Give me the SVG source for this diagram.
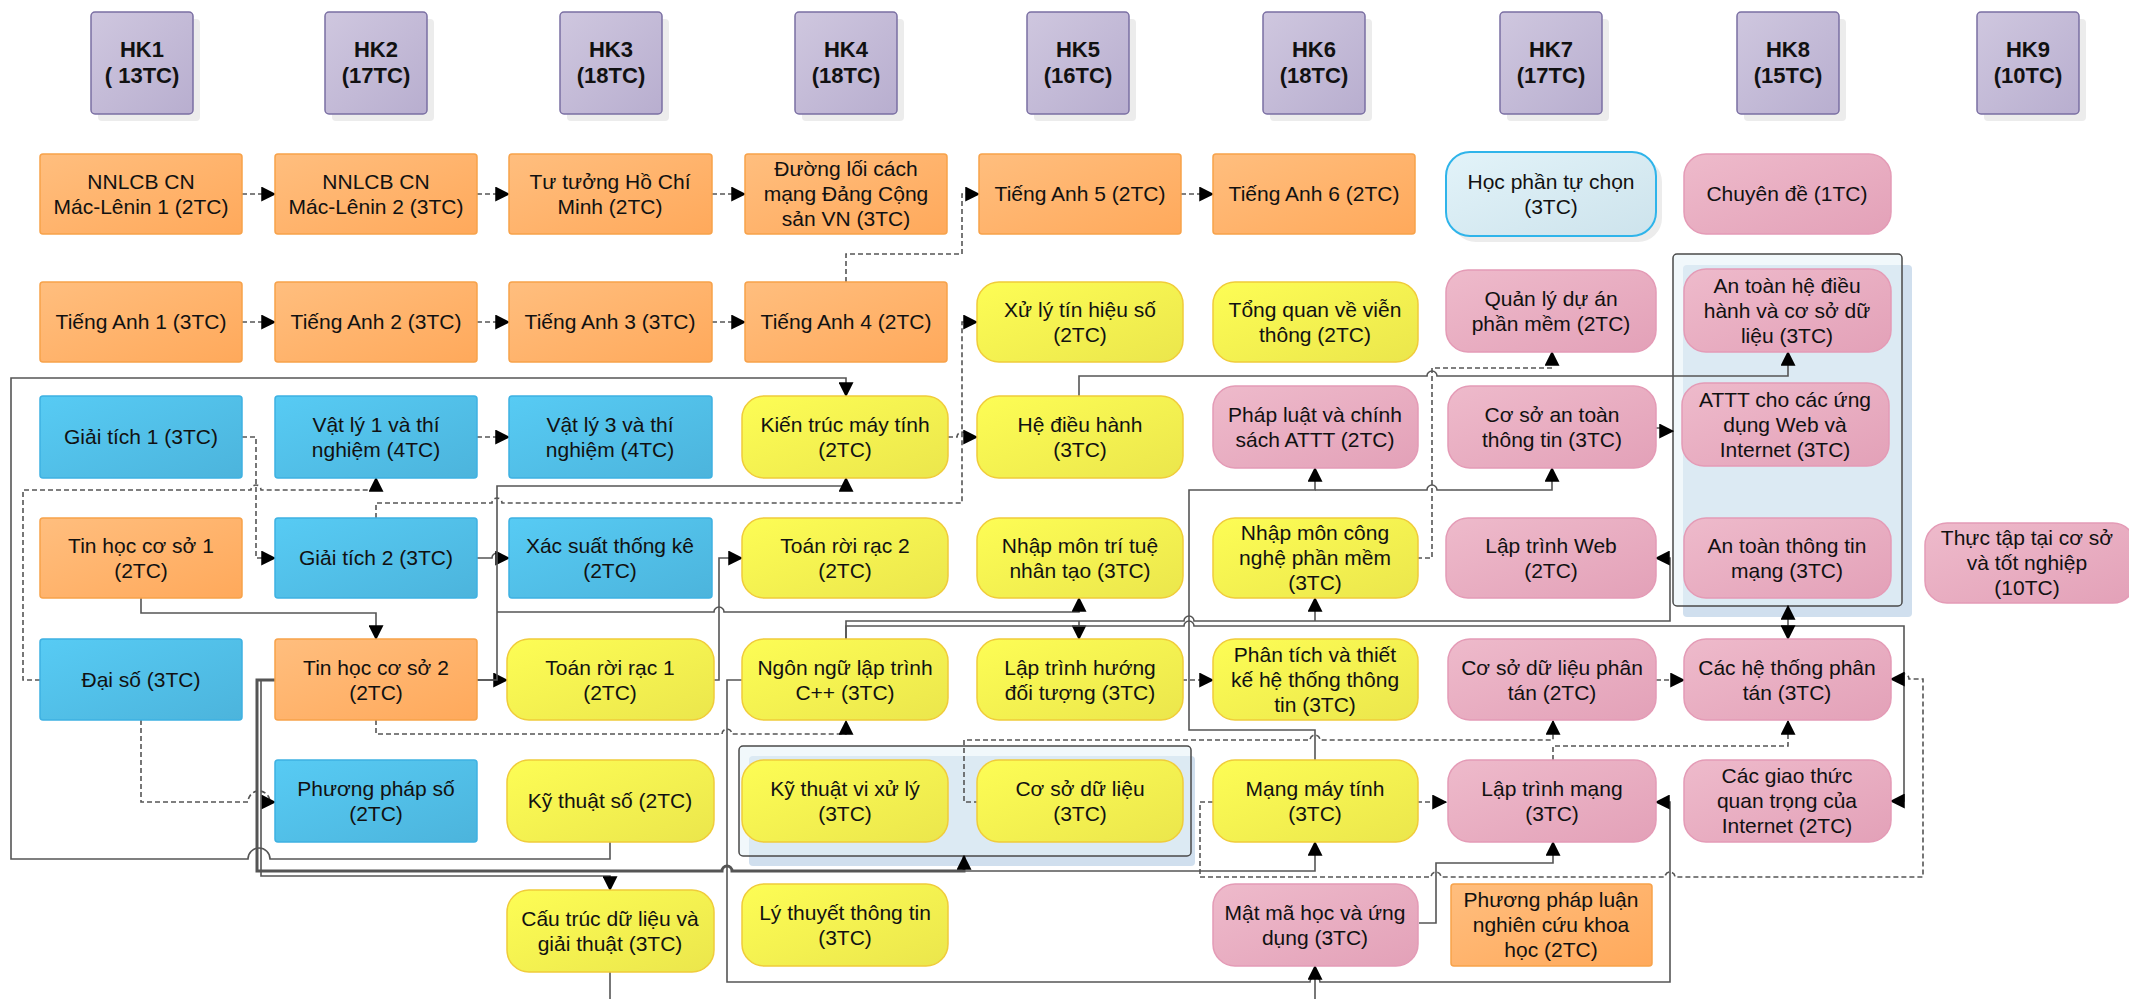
<svg xmlns="http://www.w3.org/2000/svg" width="2129" height="999" viewBox="0 0 2129 999">
<defs>
<linearGradient id="gO" x1="0" y1="0" x2="1" y2="1"><stop offset="0" stop-color="#ffbe7e"/><stop offset="1" stop-color="#ffa95b"/></linearGradient>
<linearGradient id="gB" x1="0" y1="0" x2="1" y2="1"><stop offset="0" stop-color="#57cbf4"/><stop offset="1" stop-color="#4cb4dc"/></linearGradient>
<linearGradient id="gY" x1="0" y1="0" x2="1" y2="1"><stop offset="0" stop-color="#fdfd55"/><stop offset="1" stop-color="#ebe64c"/></linearGradient>
<linearGradient id="gP" x1="0" y1="0" x2="1" y2="1"><stop offset="0" stop-color="#eebacb"/><stop offset="1" stop-color="#e3a1b8"/></linearGradient>
<linearGradient id="gH" x1="0" y1="0" x2="1" y2="1"><stop offset="0" stop-color="#cfc7df"/><stop offset="1" stop-color="#b8aecf"/></linearGradient>
<linearGradient id="gL" x1="0" y1="0" x2="1" y2="1"><stop offset="0" stop-color="#e2f3f9"/><stop offset="1" stop-color="#cde3ec"/></linearGradient>
<marker id="ar" viewBox="0 0 12 12" refX="11" refY="6" markerWidth="15" markerHeight="15" markerUnits="userSpaceOnUse" orient="auto"><path d="M0,0 L12,6 L0,12 z" fill="#000"/></marker>
<style>
.o{fill:url(#gO);stroke:#f7a24a;stroke-width:1.5}
.b{fill:url(#gB);stroke:#3eb1e2;stroke-width:1.5}
.y{fill:url(#gY);stroke:#f0cc3a;stroke-width:1.5}
.p{fill:url(#gP);stroke:#e49bb6;stroke-width:1.5}
.h{fill:url(#gH);stroke:#7a6fa3;stroke-width:1.5}
.sh{fill:#ececec}
.t{font-family:"Liberation Sans",Arial,sans-serif;font-size:21px;fill:#111;text-anchor:middle}
.ht{font-family:"Liberation Sans",Arial,sans-serif;font-size:22px;font-weight:bold;fill:#111;text-anchor:middle}
.s{fill:none;stroke:#555;stroke-width:1.6}
.d{fill:none;stroke:#555;stroke-width:1.6;stroke-dasharray:5 3}
.a{marker-end:url(#ar)}
</style>
</defs>
<rect width="2129" height="999" fill="#fff"/>

<g id="headers">
<g id="hk1"><rect class="sh" x="98" y="19" width="102" height="102" rx="4"/><rect class="h" x="91" y="12" width="102" height="102" rx="4"/><text class="ht" x="142" y="57">HK1</text><text class="ht" x="142" y="83">( 13TC)</text></g>
<g id="hk2"><rect class="sh" x="332" y="19" width="102" height="102" rx="4"/><rect class="h" x="325" y="12" width="102" height="102" rx="4"/><text class="ht" x="376" y="57">HK2</text><text class="ht" x="376" y="83">(17TC)</text></g>
<g id="hk3"><rect class="sh" x="567" y="19" width="102" height="102" rx="4"/><rect class="h" x="560" y="12" width="102" height="102" rx="4"/><text class="ht" x="611" y="57">HK3</text><text class="ht" x="611" y="83">(18TC)</text></g>
<g id="hk4"><rect class="sh" x="802" y="19" width="102" height="102" rx="4"/><rect class="h" x="795" y="12" width="102" height="102" rx="4"/><text class="ht" x="846" y="57">HK4</text><text class="ht" x="846" y="83">(18TC)</text></g>
<g id="hk5"><rect class="sh" x="1034" y="19" width="102" height="102" rx="4"/><rect class="h" x="1027" y="12" width="102" height="102" rx="4"/><text class="ht" x="1078" y="57">HK5</text><text class="ht" x="1078" y="83">(16TC)</text></g>
<g id="hk6"><rect class="sh" x="1270" y="19" width="102" height="102" rx="4"/><rect class="h" x="1263" y="12" width="102" height="102" rx="4"/><text class="ht" x="1314" y="57">HK6</text><text class="ht" x="1314" y="83">(18TC)</text></g>
<g id="hk7"><rect class="sh" x="1507" y="19" width="102" height="102" rx="4"/><rect class="h" x="1500" y="12" width="102" height="102" rx="4"/><text class="ht" x="1551" y="57">HK7</text><text class="ht" x="1551" y="83">(17TC)</text></g>
<g id="hk8"><rect class="sh" x="1744" y="19" width="102" height="102" rx="4"/><rect class="h" x="1737" y="12" width="102" height="102" rx="4"/><text class="ht" x="1788" y="57">HK8</text><text class="ht" x="1788" y="83">(15TC)</text></g>
<g id="hk9"><rect class="sh" x="1984" y="19" width="102" height="102" rx="4"/><rect class="h" x="1977" y="12" width="102" height="102" rx="4"/><text class="ht" x="2028" y="57">HK9</text><text class="ht" x="2028" y="83">(10TC)</text></g>
</g>

<g id="groups">
<g id="grp-attt"><rect x="1683" y="265" width="229" height="352" rx="4" fill="#d0dfee"/><rect x="1673" y="254" width="229" height="352" rx="4" fill="#e6f2f8" fill-opacity="0.55" stroke="#4a4a4a" stroke-width="1.5"/></g>
<g id="grp-ktvxl"><rect x="749" y="756" width="446" height="110" rx="4" fill="#d0dfee"/><rect x="739" y="746" width="452" height="110" rx="4" fill="#e6f2f8" fill-opacity="0.55" stroke="#4a4a4a" stroke-width="1.5"/></g>
</g>

<g id="connectors">
<path class="d a" d="M242,194 H275"/>
<path class="d a" d="M477,194 H509"/>
<path class="d a" d="M712,194 H745"/>
<path class="d a" d="M1181,194 H1213"/>
<path class="d a" d="M242,322 H275"/>
<path class="d a" d="M477,322 H509"/>
<path class="d a" d="M712,322 H745"/>
<path class="d a" d="M846,282 V254 H962 V194 H979"/>
<path class="d a" d="M376,518 V503 H492 a5,5 0 0 1 10,0 H962 V322 H977"/>
<path class="d a" d="M948,437 H957 a5,5 0 0 1 10,0 H977"/>
<path class="d a" d="M242,437 H256 V558 H275"/>
<path class="d a" d="M40,680 H23 V490 H251 a5,5 0 0 1 10,0 H376 V478"/>
<path class="d a" d="M477,437 H509"/>
<path class="s a" d="M141,598 V613 H376 V639"/>
<path class="s a" d="M610,842 V859 H270 a11,11 0 0 0 -22,0 H11 V378 H846 V396"/>
<path class="s a" d="M477,558 H492 a5,5 0 0 1 10,0 H509"/>
<path class="s a" d="M477,680 H507"/>
<path class="s a" d="M477,680 H497 V486 H846 V478"/>
<path class="s a" d="M497,612 H714 a5,5 0 0 1 10,0 H1079 V598"/>
<path class="s a" d="M714,680 H719 V558 H742"/>
<path class="d a" d="M376,720 V734 H722 a5,5 0 0 1 10,0 H846 V721"/>
<path class="d a" d="M141,720 V802 H248 a11,11 0 0 1 22,0 H275"/>
<path class="s a" d="M275,680 H261 V876 H610 V890"/>
<path class="s a" d="M275,680 H257 V871 H722 a5,5 0 0 1 10,0 H964 V856" style="stroke-width:3"/>
<path class="s a" d="M964,871 H1315 V842"/>
<path class="s a" d="M846,640 V621 H1184 a5,5 0 0 1 10,0 H1670 V558 H1656"/>
<path class="s a" d="M1079,621 V639"/>
<path class="s a" d="M1315,621 V598"/>
<path class="s a" d="M846,640 V626 H1184 a5,5 0 0 1 10,0 H1904 V801 H1891"/>
<path class="s a" d="M1788,626 V606"/>
<path class="s a" d="M1788,626 V639"/>
<path class="s a" d="M742,680 H727 V982 H1310 a5,5 0 0 1 10,0 H1670 V802 H1656"/>
<path class="s a" d="M1315,999 V966"/>
<path class="s" d="M610,972 V999"/>
<path class="s a" d="M1419,923 H1436 V863 H1553 V842"/>
<path class="d a" d="M1417,802 H1446"/>
<path class="d a" d="M1213,802 H1200 V877 H1431 a5,5 0 0 1 10,0 H1665 a5,5 0 0 1 10,0 H1923 V679 H1909 a5,5 0 0 0 -10,0 H1891"/>
<path class="d a" d="M979,802 H964 V740 H1310 a5,5 0 0 1 10,0 H1553 V721"/>
<path class="d a" d="M1553,760 V746 H1788 V721"/>
<path class="s a" d="M1315,760 V730 H1189 V490 H1315 V468"/>
<path class="s a" d="M1315,490 H1427 a5,5 0 0 1 10,0 H1552 V468"/>
<path class="s a" d="M1079,396 V376 H1427 a5,5 0 0 1 10,0 H1788 V352"/>
<path class="d a" d="M1417,558 H1432 V368 H1552 V352"/>
<path class="s a" d="M1656,428 H1663 V431 H1673"/>
<path class="d a" d="M1182,680 H1213"/>
<path class="d a" d="M1656,680 H1684"/>
</g>

<g id="nodes">
<g id="nnlcb1"><rect class="o" x="40" y="154" width="202" height="80" rx="3"/><text class="t" x="141" y="188.5">NNLCB CN</text><text class="t" x="141" y="213.5">Mác-Lênin 1 (2TC)</text></g>
<g id="ta1"><rect class="o" x="40" y="282" width="202" height="80" rx="3"/><text class="t" x="141" y="329">Tiếng Anh 1 (3TC)</text></g>
<g id="gt1"><rect class="b" x="40" y="396" width="202" height="82" rx="3"/><text class="t" x="141" y="444">Giải tích 1 (3TC)</text></g>
<g id="th1"><rect class="o" x="40" y="518" width="202" height="80" rx="3"/><text class="t" x="141" y="552.5">Tin học cơ sở 1</text><text class="t" x="141" y="577.5">(2TC)</text></g>
<g id="ds"><rect class="b" x="40" y="639" width="202" height="81" rx="3"/><text class="t" x="141" y="687">Đại số (3TC)</text></g>

<g id="nnlcb2"><rect class="o" x="275" y="154" width="202" height="80" rx="3"/><text class="t" x="376" y="188.5">NNLCB CN</text><text class="t" x="376" y="213.5">Mác-Lênin 2 (3TC)</text></g>
<g id="ta2"><rect class="o" x="275" y="282" width="202" height="80" rx="3"/><text class="t" x="376" y="329">Tiếng Anh 2 (3TC)</text></g>
<g id="vl1"><rect class="b" x="275" y="396" width="202" height="82" rx="3"/><text class="t" x="376" y="431.5">Vật lý 1 và thí</text><text class="t" x="376" y="456.5">nghiệm (4TC)</text></g>
<g id="gt2"><rect class="b" x="275" y="518" width="202" height="80" rx="3"/><text class="t" x="376" y="565">Giải tích 2 (3TC)</text></g>
<g id="th2"><rect class="o" x="275" y="639" width="202" height="81" rx="3"/><text class="t" x="376" y="674.5">Tin học cơ sở 2</text><text class="t" x="376" y="699.5">(2TC)</text></g>
<g id="pps"><rect class="b" x="275" y="760" width="202" height="82" rx="3"/><text class="t" x="376" y="795.5">Phương pháp số</text><text class="t" x="376" y="820.5">(2TC)</text></g>

<g id="tthcm"><rect class="o" x="509" y="154" width="203" height="80" rx="3"/><text class="t" x="610" y="188.5">Tư tưởng Hồ Chí</text><text class="t" x="610" y="213.5">Minh (2TC)</text></g>
<g id="ta3"><rect class="o" x="509" y="282" width="203" height="80" rx="3"/><text class="t" x="610" y="329">Tiếng Anh 3 (3TC)</text></g>
<g id="vl3"><rect class="b" x="509" y="396" width="203" height="82" rx="3"/><text class="t" x="610" y="431.5">Vật lý 3 và thí</text><text class="t" x="610" y="456.5">nghiệm (4TC)</text></g>
<g id="xstk"><rect class="b" x="509" y="518" width="203" height="80" rx="3"/><text class="t" x="610" y="552.5">Xác suất thống kê</text><text class="t" x="610" y="577.5">(2TC)</text></g>
<g id="trr1"><rect class="y" x="507" y="639" width="207" height="81" rx="22"/><text class="t" x="610" y="674.5">Toán rời rạc 1</text><text class="t" x="610" y="699.5">(2TC)</text></g>
<g id="kts"><rect class="y" x="507" y="760" width="207" height="82" rx="22"/><text class="t" x="610" y="808">Kỹ thuật số (2TC)</text></g>
<g id="ctdl"><rect class="y" x="507" y="890" width="207" height="82" rx="22"/><text class="t" x="610" y="925.5">Cấu trúc dữ liệu và</text><text class="t" x="610" y="950.5">giải thuật (3TC)</text></g>

<g id="dlcm"><rect class="o" x="745" y="154" width="202" height="80" rx="3"/><text class="t" x="846" y="176">Đường lối cách</text><text class="t" x="846" y="201">mạng Đảng Cộng</text><text class="t" x="846" y="226">sản VN (3TC)</text></g>
<g id="ta4"><rect class="o" x="745" y="282" width="202" height="80" rx="3"/><text class="t" x="846" y="329">Tiếng Anh 4 (2TC)</text></g>
<g id="ktmt"><rect class="y" x="742" y="396" width="206" height="82" rx="22"/><text class="t" x="845" y="431.5">Kiến trúc máy tính</text><text class="t" x="845" y="456.5">(2TC)</text></g>
<g id="trr2"><rect class="y" x="742" y="518" width="206" height="80" rx="22"/><text class="t" x="845" y="552.5">Toán rời rạc 2</text><text class="t" x="845" y="577.5">(2TC)</text></g>
<g id="cpp"><rect class="y" x="742" y="639" width="206" height="81" rx="22"/><text class="t" x="845" y="674.5">Ngôn ngữ lập trình</text><text class="t" x="845" y="699.5">C++ (3TC)</text></g>
<g id="ktvxl"><rect class="y" x="742" y="760" width="206" height="82" rx="22"/><text class="t" x="845" y="795.5">Kỹ thuật vi xử lý</text><text class="t" x="845" y="820.5">(3TC)</text></g>
<g id="lttt"><rect class="y" x="742" y="884" width="206" height="82" rx="22"/><text class="t" x="845" y="919.5">Lý thuyết thông tin</text><text class="t" x="845" y="944.5">(3TC)</text></g>

<g id="ta5"><rect class="o" x="979" y="154" width="202" height="80" rx="3"/><text class="t" x="1080" y="201">Tiếng Anh 5 (2TC)</text></g>
<g id="xlths"><rect class="y" x="977" y="282" width="206" height="80" rx="22"/><text class="t" x="1080" y="316.5">Xử lý tín hiệu số</text><text class="t" x="1080" y="341.5">(2TC)</text></g>
<g id="hdh"><rect class="y" x="977" y="396" width="206" height="82" rx="22"/><text class="t" x="1080" y="431.5">Hệ điều hành</text><text class="t" x="1080" y="456.5">(3TC)</text></g>
<g id="nmttnt"><rect class="y" x="977" y="518" width="206" height="80" rx="22"/><text class="t" x="1080" y="552.5">Nhập môn trí tuệ</text><text class="t" x="1080" y="577.5">nhân tạo (3TC)</text></g>
<g id="lthdt"><rect class="y" x="977" y="639" width="206" height="81" rx="22"/><text class="t" x="1080" y="674.5">Lập trình hướng</text><text class="t" x="1080" y="699.5">đối tượng (3TC)</text></g>
<g id="csdl"><rect class="y" x="977" y="760" width="206" height="82" rx="22"/><text class="t" x="1080" y="795.5">Cơ sở dữ liệu</text><text class="t" x="1080" y="820.5">(3TC)</text></g>

<g id="ta6"><rect class="o" x="1213" y="154" width="202" height="80" rx="3"/><text class="t" x="1314" y="201">Tiếng Anh 6 (2TC)</text></g>
<g id="tqvt"><rect class="y" x="1213" y="282" width="205" height="80" rx="22"/><text class="t" x="1315" y="316.5">Tổng quan về viễn</text><text class="t" x="1315" y="341.5">thông (2TC)</text></g>
<g id="plcs"><rect class="p" x="1213" y="386" width="205" height="82" rx="22"/><text class="t" x="1315" y="421.5">Pháp luật và chính</text><text class="t" x="1315" y="446.5">sách ATTT (2TC)</text></g>
<g id="nmcnpm"><rect class="y" x="1213" y="518" width="205" height="80" rx="22"/><text class="t" x="1315" y="540">Nhập môn công</text><text class="t" x="1315" y="565">nghệ phần mềm</text><text class="t" x="1315" y="590">(3TC)</text></g>
<g id="pttk"><rect class="y" x="1213" y="639" width="205" height="81" rx="22"/><text class="t" x="1315" y="662">Phân tích và thiết</text><text class="t" x="1315" y="687">kế hệ thống thông</text><text class="t" x="1315" y="712">tin (3TC)</text></g>
<g id="mmt"><rect class="y" x="1213" y="760" width="205" height="82" rx="22"/><text class="t" x="1315" y="795.5">Mạng máy tính</text><text class="t" x="1315" y="820.5">(3TC)</text></g>
<g id="mmh"><rect class="p" x="1213" y="884" width="205" height="82" rx="22"/><text class="t" x="1315" y="919.5">Mật mã học và ứng</text><text class="t" x="1315" y="944.5">dụng (3TC)</text></g>

<g id="hptc"><rect x="1452" y="158" width="210" height="84" rx="24" fill="#ececec"/><rect x="1446" y="152" width="210" height="84" rx="24" fill="url(#gL)" stroke="#2fb4ea" stroke-width="2"/><text class="t" x="1551" y="188.5">Học phần tự chọn</text><text class="t" x="1551" y="213.5">(3TC)</text></g>
<g id="qlda"><rect class="p" x="1446" y="270" width="210" height="82" rx="22"/><text class="t" x="1551" y="305.5">Quản lý dự án</text><text class="t" x="1551" y="330.5">phần mềm (2TC)</text></g>
<g id="csattt"><rect class="p" x="1448" y="386" width="208" height="82" rx="22"/><text class="t" x="1552" y="421.5">Cơ sở an toàn</text><text class="t" x="1552" y="446.5">thông tin (3TC)</text></g>
<g id="ltw"><rect class="p" x="1446" y="518" width="210" height="80" rx="22"/><text class="t" x="1551" y="552.5">Lập trình Web</text><text class="t" x="1551" y="577.5">(2TC)</text></g>
<g id="csdlpt"><rect class="p" x="1448" y="639" width="208" height="81" rx="22"/><text class="t" x="1552" y="674.5">Cơ sở dữ liệu phân</text><text class="t" x="1552" y="699.5">tán (2TC)</text></g>
<g id="ltm"><rect class="p" x="1448" y="760" width="208" height="82" rx="22"/><text class="t" x="1552" y="795.5">Lập trình mạng</text><text class="t" x="1552" y="820.5">(3TC)</text></g>
<g id="pplnc"><rect class="o" x="1451" y="884" width="201" height="82" rx="3"/><text class="t" x="1551" y="907">Phương pháp luận</text><text class="t" x="1551" y="932">nghiên cứu khoa</text><text class="t" x="1551" y="957">học (2TC)</text></g>

<g id="cd"><rect class="p" x="1684" y="154" width="207" height="80" rx="22"/><text class="t" x="1787" y="201">Chuyên đề (1TC)</text></g>
<g id="athdh"><rect class="p" x="1684" y="269" width="207" height="83" rx="22"/><text class="t" x="1787" y="292.5">An toàn hệ điều</text><text class="t" x="1787" y="317.5">hành và cơ sở dữ</text><text class="t" x="1787" y="342.5">liệu (3TC)</text></g>
<g id="atttw"><rect class="p" x="1682" y="383" width="207" height="83" rx="22"/><text class="t" x="1785" y="407">ATTT cho các ứng</text><text class="t" x="1785" y="432">dụng Web và</text><text class="t" x="1785" y="457">Internet (3TC)</text></g>
<g id="atttm"><rect class="p" x="1684" y="518" width="207" height="80" rx="22"/><text class="t" x="1787" y="552.5">An toàn thông tin</text><text class="t" x="1787" y="577.5">mạng (3TC)</text></g>
<g id="chtpt"><rect class="p" x="1684" y="639" width="207" height="81" rx="22"/><text class="t" x="1787" y="674.5">Các hệ thống phân</text><text class="t" x="1787" y="699.5">tán (3TC)</text></g>
<g id="cgt"><rect class="p" x="1684" y="760" width="207" height="82" rx="22"/><text class="t" x="1787" y="782.5">Các giao thức</text><text class="t" x="1787" y="807.5">quan trọng của</text><text class="t" x="1787" y="832.5">Internet (2TC)</text></g>

<g id="tttn"><rect class="p" x="1925" y="523" width="210" height="80" rx="22"/><text class="t" x="2027" y="545">Thực tập tại cơ sở</text><text class="t" x="2027" y="570">và tốt nghiệp</text><text class="t" x="2027" y="595">(10TC)</text></g>
</g>
</svg>
